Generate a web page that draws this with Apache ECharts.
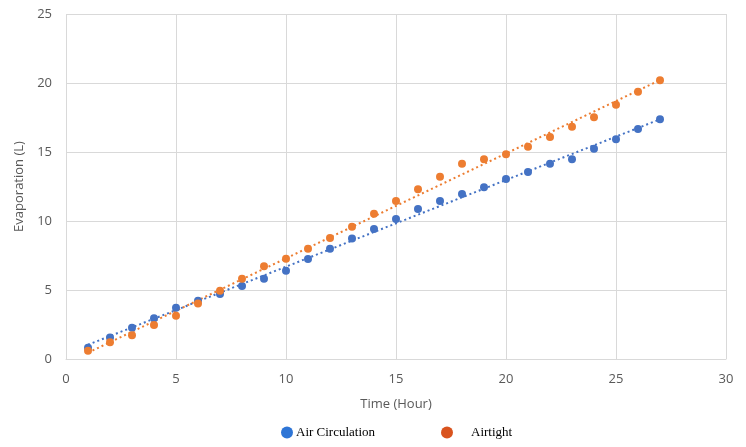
<!DOCTYPE html>
<html>
<head>
<meta charset="utf-8">
<script src="https://cdn.jsdelivr.net/npm/echarts@6/dist/echarts.min.js"></script>
<style>
  html, body { margin: 0; padding: 0; background: #fff; }
  #chart { width: 746px; height: 447px; }
</style>
</head>
<body>
<div id="chart"></div>
<script>
// Hourly time points
const hours = [1,2,3,4,5,6,7,8,9,10,11,12,13,14,15,16,17,18,19,20,21,22,23,24,25,26,27];
// Cumulative evaporation (L)
const airCirculation = [0.82,1.55,2.27,2.95,3.72,4.23,4.71,5.29,5.82,6.40,7.25,7.99,8.74,9.42,
  10.14,10.87,11.45,11.96,12.44,13.04,13.55,14.15,14.47,15.24,15.92,16.67,17.37];
const airtight = [0.60,1.21,1.72,2.46,3.14,4.03,4.95,5.82,6.72,7.27,7.99,8.77,9.59,10.53,
  11.45,12.30,13.21,14.15,14.47,14.83,15.38,16.09,16.83,17.51,18.43,19.37,20.20];
const seriesNames = ['Air Circulation', 'Airtight'];
const xTicks = [0, 5, 10, 15, 20, 25, 30];
const yTicks = [0, 5, 10, 15, 20, 25];

// Least-squares linear trendline through a series, sampled at first and last hour
function trend(xs, ys) {
  const n = xs.length;
  let sx = 0, sy = 0, sxx = 0, sxy = 0;
  for (let i = 0; i < n; i++) { sx += xs[i]; sy += ys[i]; sxx += xs[i] * xs[i]; sxy += xs[i] * ys[i]; }
  const b = (n * sxy - sx * sy) / (n * sxx - sx * sx);
  const a = (sy - b * sx) / n;
  const x0 = xs[0], x1 = xs[n - 1];
  return [[x0, a + b * x0], [x1, a + b * x1]];
}

const pair = (xs, ys) => xs.map((x, i) => [x, ys[i]]);
const blue = '#4472C4', orange = '#ED7D31';
const axisText = { color: '#595959', fontSize: 13, fontFamily: 'Open Sans' };

const chart = echarts.init(document.getElementById('chart'), null, { renderer: 'canvas' });
chart.setOption({
  animation: false,
  backgroundColor: '#fff',
  grid: { left: 66, right: 20, top: 14, bottom: 88 },
  xAxis: {
    type: 'value', min: xTicks[0], max: xTicks[xTicks.length - 1], interval: 5,
    name: 'Time (Hour)', nameLocation: 'middle', nameGap: 39,
    nameTextStyle: { color: '#595959', fontSize: 13, fontFamily: 'Open Sans' },
    axisLine: { show: true, lineStyle: { color: '#d9d9d9' } },
    axisTick: { show: false },
    axisLabel: Object.assign({ margin: 14 }, axisText),
    splitLine: { show: true, lineStyle: { color: '#d9d9d9', width: 1 } }
  },
  yAxis: {
    type: 'value', min: yTicks[0], max: yTicks[yTicks.length - 1], interval: 5,
    name: 'Evaporation (L)', nameLocation: 'middle', nameGap: 36, nameRotate: 90,
    nameTextStyle: { color: '#595959', fontSize: 13, fontFamily: 'Open Sans' },
    axisLine: { show: false },
    axisTick: { show: false },
    axisLabel: Object.assign({ margin: 14 }, axisText),
    splitLine: { show: true, lineStyle: { color: '#d9d9d9', width: 1 } }
  },
  legend: [
    {
      left: 276, top: 421, itemWidth: 12, itemHeight: 12, icon: 'circle',
      textStyle: { color: '#000', fontSize: 13, fontFamily: 'Liberation Serif', padding: [0, 0, 0, -2] },
      data: [{ name: seriesNames[0], itemStyle: { color: '#2E75D6' } }]
    },
    {
      left: 436, top: 421, itemWidth: 12, itemHeight: 12, icon: 'circle',
      textStyle: { color: '#000', fontSize: 13, fontFamily: 'Liberation Serif', padding: [0, 0, 0, 13] },
      data: [{ name: seriesNames[1], itemStyle: { color: '#D9531E' } }]
    }
  ],
  series: [
    {
      name: seriesNames[0], type: 'scatter', symbolSize: 8, z: 3,
      itemStyle: { color: blue, opacity: 1 },
      data: pair(hours, airCirculation)
    },
    {
      name: seriesNames[1], type: 'scatter', symbolSize: 8, z: 3,
      itemStyle: { color: orange, opacity: 1 },
      data: pair(hours, airtight)
    },
    {
      name: 'trend-blue', type: 'line', showSymbol: false, silent: true, z: 2,
      lineStyle: { color: blue, width: 2, type: [2, 3] },
      data: trend(hours, airCirculation)
    },
    {
      name: 'trend-orange', type: 'line', showSymbol: false, silent: true, z: 2,
      lineStyle: { color: orange, width: 2, type: [2, 3] },
      data: trend(hours, airtight)
    }
  ]
});
</script>
</body>
</html>
